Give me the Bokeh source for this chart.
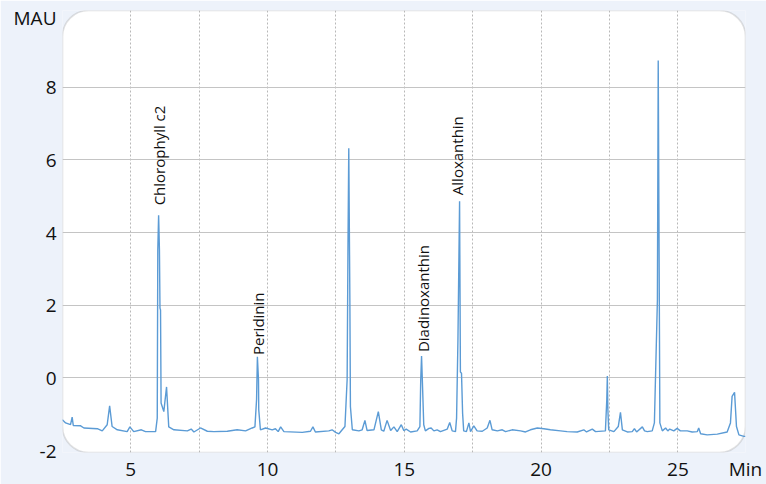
from bokeh.plotting import figure
from bokeh.models import (BoxAnnotation, FixedTicker, Range1d, ColumnDataSource)
from bokeh.core.properties import value
from bokeh.embed import file_html
from bokeh.resources import INLINE
import math

# ---- data (time in min, absorbance in mAU) ----
time_min = [2.50, 2.62, 2.80, 2.86, 2.90, 3.17, 3.29, 3.78, 3.96, 4.14, 4.23, 4.32, 4.51, 4.87,
            4.97, 5.11, 5.39, 5.54, 5.91, 5.97, 5.99, 6.02, 6.05, 6.07, 6.09, 6.11, 6.21, 6.31,
            6.39, 6.58, 7.07, 7.21, 7.31, 7.55, 7.80, 8.04, 8.53, 8.89, 9.20, 9.44, 9.54, 9.60,
            9.63, 9.67, 9.68, 9.74, 9.93, 10.17, 10.29, 10.39, 10.48, 10.60, 11.27, 11.57, 11.66,
            11.75, 12.24, 12.36, 12.49, 12.61, 12.73, 12.83, 12.91, 12.94, 12.97, 13.01, 13.03,
            13.10, 13.34, 13.46, 13.56, 13.64, 13.89, 14.05, 14.16, 14.25, 14.37, 14.50, 14.62,
            14.74, 14.89, 14.98, 15.07, 15.23, 15.47, 15.57, 15.60, 15.63, 15.67, 15.71, 15.77,
            15.90, 15.98, 16.08, 16.20, 16.32, 16.57, 16.66, 16.75, 16.87, 16.91, 16.96, 17.02,
            17.05, 17.09, 17.13, 17.17, 17.27, 17.36, 17.42, 17.54, 17.66, 17.85, 18.03, 18.13,
            18.21, 18.40, 18.58, 18.70, 18.94, 19.25, 19.43, 19.61, 19.86, 20.10, 20.34, 20.71,
            20.95, 21.32, 21.56, 21.66, 21.87, 21.99, 22.35, 22.40, 22.42, 22.44, 22.47, 22.66,
            22.82, 22.90, 22.97, 23.15, 23.33, 23.41, 23.49, 23.70, 23.78, 23.88, 24.06, 24.14,
            24.25, 24.28, 24.32, 24.34, 24.43, 24.55, 24.63, 24.70, 24.85, 24.97, 25.09, 25.34,
            25.52, 25.71, 25.76, 25.83, 26.07, 26.44, 26.80, 26.92, 26.98, 27.07, 27.14, 27.23,
            27.41, 27.47]
mau = [-1.15, -1.24, -1.29, -1.08, -1.31, -1.32, -1.38, -1.40, -1.46, -1.29, -0.77, -1.34, -1.43,
       -1.48, -1.35, -1.48, -1.43, -1.48, -1.48, -1.11, 3.52, 4.48, 3.52, 1.92, 1.87, -0.69,
       -0.93, -0.25, -1.35, -1.43, -1.46, -1.41, -1.49, -1.38, -1.47, -1.48, -1.47, -1.43,
       -1.46, -1.38, -1.35, -0.60, 0.58, -0.05, -0.88, -1.43, -1.38, -1.43, -1.40, -1.48,
       -1.35, -1.48, -1.50, -1.47, -1.35, -1.49, -1.46, -1.43, -1.50, -1.54, -1.43, -1.34,
       -0.05, 3.52, 6.32, 2.14, -0.79, -1.43, -1.46, -1.43, -1.17, -1.45, -1.43, -0.93, -1.43,
       -1.47, -1.17, -1.45, -1.35, -1.48, -1.29, -1.45, -1.41, -1.49, -1.46, -1.34, -0.05,
       0.60, -0.33, -1.29, -1.46, -1.39, -1.38, -1.46, -1.43, -1.48, -1.41, -1.23, -1.46,
       -1.48, -1.11, 1.04, 4.86, 0.16, 0.13, -0.97, -1.46, -1.48, -1.24, -1.48, -1.32, -1.46,
       -1.47, -1.38, -1.17, -1.43, -1.46, -1.43, -1.48, -1.43, -1.46, -1.49, -1.43, -1.38,
       -1.40, -1.43, -1.46, -1.48, -1.49, -1.43, -1.49, -1.41, -1.48, -1.46, -0.60, 0.05,
       -0.88, -1.43, -1.48, -1.34, -0.95, -1.43, -1.49, -1.48, -1.40, -1.49, -1.35, -1.46,
       -1.48, -1.46, -1.24, 2.14, 8.74, 2.14, -1.24, -1.46, -1.38, -1.46, -1.41, -1.46, -1.39,
       -1.46, -1.46, -1.49, -1.48, -1.38, -1.54, -1.57, -1.55, -1.49, -1.24, -0.51, -0.40,
       -1.34, -1.57, -1.61, -1.61]

peak_names = ["Chlorophyll c2", "Peridinin", "Diadinoxanthin", "Alloxanthin"]
peak_label_time = [6.02, 9.67, 15.67, 16.94]
peak_label_mau = [4.75, 0.63, 0.71, 5.03]

# axis ticks; the unit names sit at the end of each axis, as in the original
x_ticks = [5, 10, 15, 20, 25, 27.47]
x_tick_labels = ["5", "10", "15", "20", "25", "Min"]
x_grid = [5, 7.5, 10, 12.5, 15, 17.5, 20, 22.5, 25]
y_ticks = [-2, 0, 2, 4, 6, 8, 9.92]
y_tick_labels = ["-2", "0", "2", "4", "6", "8", "MAU"]
y_grid = [0, 2, 4, 6, 8]

PAGE_BG = "#EDF2FA"
LINE = "#5B9BD5"
FONT = "Open Sans"

W, H = 766, 484
p = figure(width=W, height=H, output_backend="svg", toolbar_location=None,
           x_range=Range1d(2.507, 27.47), y_range=Range1d(-2.055, 10.115),
           min_border_left=62, min_border_right=21, min_border_top=10, min_border_bottom=31)
p.background_fill_color = PAGE_BG
p.border_fill_color = PAGE_BG
p.outline_line_color = None

panel = BoxAnnotation(fill_color="white", fill_alpha=1.0, line_color="#9a9a9a",
                      line_width=1.6, border_radius=26, level="image")
p.add_layout(panel)

p.line(time_min, mau, line_color=LINE, line_width=1.4)

src = ColumnDataSource(dict(x=peak_label_time, y=peak_label_mau, t=peak_names))
p.text(x="x", y="y", text="t", source=src, angle=math.pi / 2, text_align="left",
       text_baseline="middle", text_font=value(FONT), text_font_size="15px", text_color="#111111")

# axes
for ax in (p.xaxis[0], p.yaxis[0]):
    ax.axis_line_color = None
    ax.major_tick_line_color = None
    ax.minor_tick_line_color = None
    ax.major_label_text_font = FONT
    ax.major_label_text_font_size = "19px"
    ax.major_label_text_color = "#111111"
p.xaxis.ticker = FixedTicker(ticks=x_ticks)
p.xaxis.major_label_overrides = {t: s for t, s in zip(x_ticks, x_tick_labels)}
p.yaxis.ticker = FixedTicker(ticks=y_ticks)
p.yaxis.major_label_overrides = {t: s for t, s in zip(y_ticks, y_tick_labels)}
p.xaxis.major_label_standoff = -3
p.yaxis.major_label_standoff = 0

p.xgrid.ticker = FixedTicker(ticks=x_grid)
p.xgrid.grid_line_color = "#b8b8b8"
p.xgrid.grid_line_dash = "2 2"
p.xgrid.grid_line_width = 1
p.ygrid.ticker = FixedTicker(ticks=y_grid)
p.ygrid.grid_line_color = "#c4c4c4"
p.ygrid.grid_line_width = 1

open("out.html", "w").write(file_html(p, INLINE))
